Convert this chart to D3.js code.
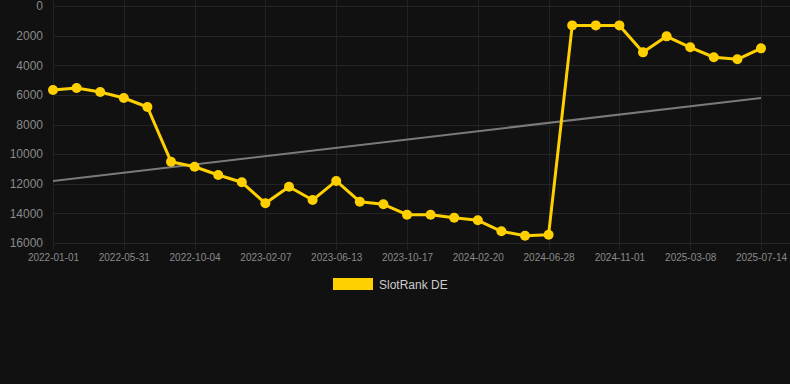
<!DOCTYPE html>
<html>
<head>
<meta charset="utf-8">
<script src="https://cdn.jsdelivr.net/npm/d3@7"></script>
<style>
html, body { margin: 0; padding: 0; background: #111111; }
svg { display: block; }
.tick text { font-family: Arial, "Liberation Sans", sans-serif; }
</style>
</head>
<body>
<div id="chart"></div>
<script>
// dates of each point (only every 3rd gets a label)
var dates = ["2022-01-01","2022-02-20","2022-04-11","2022-05-31","2022-07-12","2022-08-23",
	"2022-10-04","2022-11-15","2022-12-27","2023-02-07","2023-03-21","2023-05-02",
	"2023-06-13","2023-07-25","2023-09-05","2023-10-17","2023-11-28","2024-01-09",
	"2024-02-20","2024-04-05","2024-05-17","2024-06-28","2024-08-09","2024-09-20",
	"2024-11-01","2024-12-13","2025-01-24","2025-03-08","2025-04-19","2025-06-01",
	"2025-07-14"];
var rank = [5670, 5540, 5810, 6210, 6820, 10510, 10850, 11410, 11900, 13320, 12200,
	13100, 11810, 13210, 13390, 14090, 14090, 14290, 14470, 15210, 15510, 15440,
	1310, 1310, 1310, 3130, 2050, 2790, 3460, 3600, 2860];
var trend = [11810, 6210];
var yTicks = [0, 2000, 4000, 6000, 8000, 10000, 12000, 14000, 16000];
var seriesName = "SlotRank DE";

var width = 790, height = 384;
var plotLeft = 53, plotRight = 761, plotTop = 6, plotBottom = 243;

var svg = d3.select("#chart").append("svg").attr("width", width).attr("height", height);

var x = d3.scalePoint().domain(dates).range([plotLeft, plotRight]);
var y = d3.scaleLinear().domain([0, 16000]).range([plotTop, plotBottom]);

var labelDates = dates.filter(function(d, i){ return i % 3 == 0; });

// horizontal grid
svg.append("g").selectAll("line").data(yTicks).enter().append("line")
	.attr("x1", plotLeft).attr("x2", width)
	.attr("y1", function(d){ return Math.round(y(d)) + 0.5; })
	.attr("y2", function(d){ return Math.round(y(d)) + 0.5; })
	.attr("stroke", "#252525").attr("stroke-width", 1);

// vertical grid
svg.append("g").selectAll("line").data(labelDates).enter().append("line")
	.attr("x1", function(d){ return Math.round(x(d)) + 0.5; })
	.attr("x2", function(d){ return Math.round(x(d)) + 0.5; })
	.attr("y1", 0).attr("y2", plotBottom + 7)
	.attr("stroke", "#222222").attr("stroke-width", 1);

// y axis
var yAxis = svg.append("g").attr("transform", "translate(" + (plotLeft - 10) + ",0)")
	.call(d3.axisLeft(y).tickValues(yTicks).tickSize(0).tickPadding(0).tickFormat(d3.format("d")));
yAxis.select(".domain").remove();
yAxis.selectAll("text").attr("fill", "#8a8a8a").attr("font-size", "12px");

// x axis
var xAxis = svg.append("g").attr("transform", "translate(0," + plotBottom + ")")
	.call(d3.axisBottom(x).tickValues(labelDates).tickSize(0).tickPadding(11));
xAxis.select(".domain").remove();
xAxis.selectAll("text").attr("fill", "#8a8a8a").attr("font-size", "10px");

// trend line
svg.append("line")
	.attr("x1", x(dates[0])).attr("y1", y(trend[0]))
	.attr("x2", x(dates[dates.length - 1])).attr("y2", y(trend[1]))
	.attr("stroke", "#7a7a7a").attr("stroke-width", 2);

// series
var line = d3.line()
	.x(function(d, i){ return x(dates[i]); })
	.y(function(d){ return y(d); });
svg.append("path").datum(rank)
	.attr("fill", "none").attr("stroke", "#ffd000").attr("stroke-width", 3)
	.attr("stroke-linejoin", "round")
	.attr("d", line);
svg.append("g").selectAll("circle").data(rank).enter().append("circle")
	.attr("cx", function(d, i){ return x(dates[i]); })
	.attr("cy", function(d){ return y(d); })
	.attr("r", 5)
	.attr("fill", "#ffd000");

// legend
var legend = svg.append("g");
legend.append("rect").attr("x", 333).attr("y", 278).attr("width", 40).attr("height", 12)
	.attr("fill", "#ffd000");
legend.append("text").attr("x", 379).attr("y", 288.5).text(seriesName)
	.attr("fill", "#cccccc").attr("font-size", "12px")
	.attr("font-family", "Arial, 'Liberation Sans', sans-serif");
</script>
</body>
</html>
